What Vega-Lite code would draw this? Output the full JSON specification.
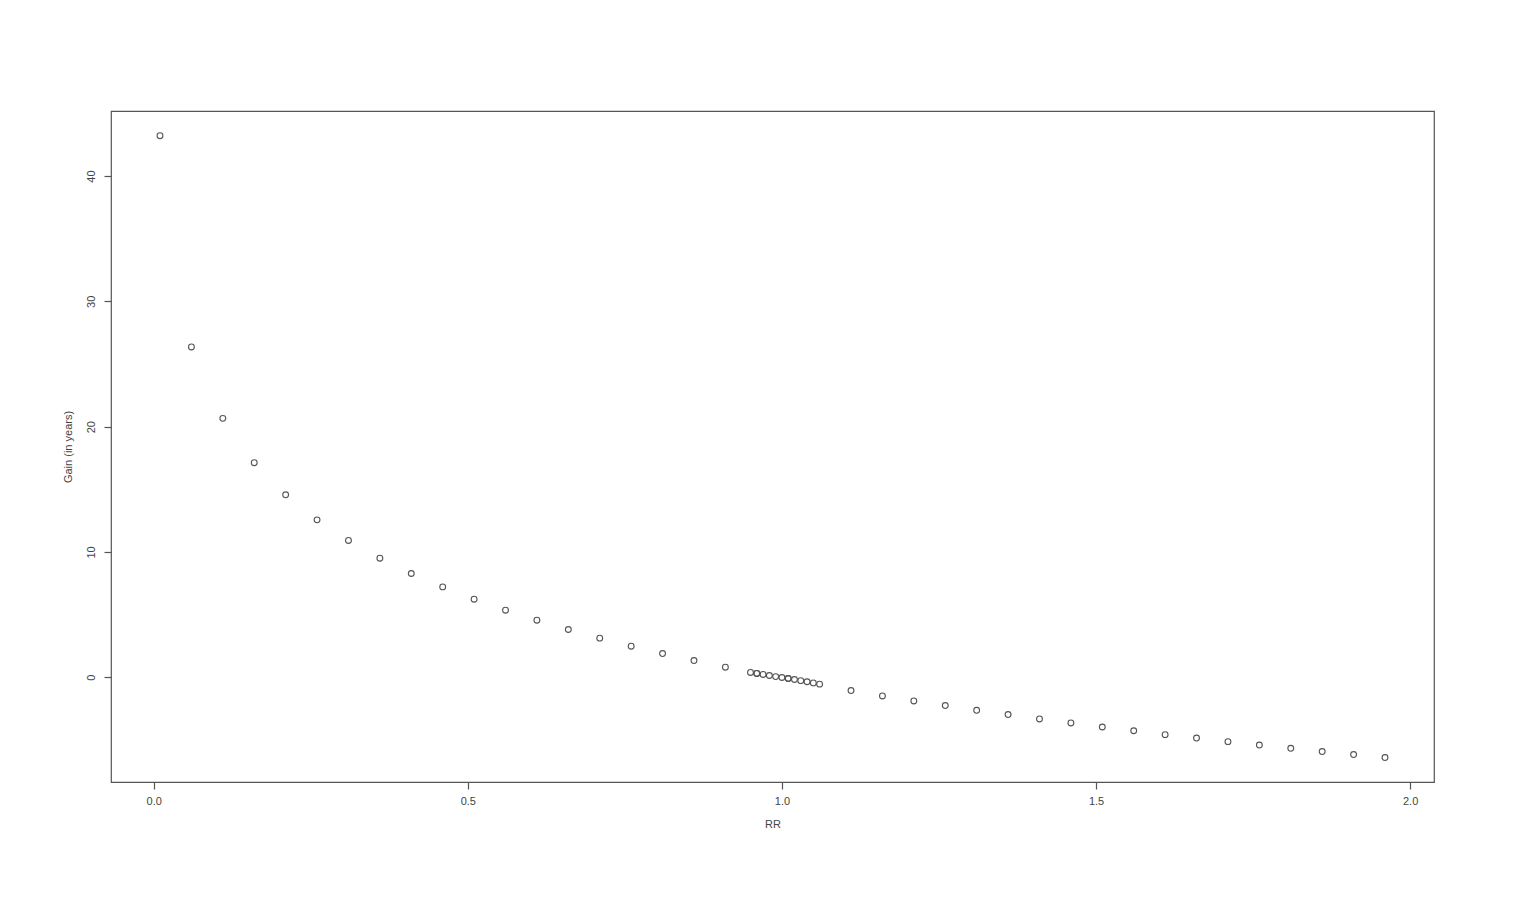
{
  "$schema": "https://vega.github.io/schema/vega-lite/v6.json",
  "autosize": "none",
  "padding": {"left": 111, "top": 111, "right": 86, "bottom": 124},
  "width": 1323,
  "height": 671,
  "background": "white",
  "data": {
    "values": [
      {"RR": 0.01, "Gain": 43.22}, {"RR": 0.06, "Gain": 26.36}, {"RR": 0.11, "Gain": 20.66},
      {"RR": 0.16, "Gain": 17.12}, {"RR": 0.21, "Gain": 14.56}, {"RR": 0.26, "Gain": 12.56},
      {"RR": 0.31, "Gain": 10.92}, {"RR": 0.36, "Gain": 9.50}, {"RR": 0.41, "Gain": 8.28},
      {"RR": 0.46, "Gain": 7.21}, {"RR": 0.51, "Gain": 6.23}, {"RR": 0.56, "Gain": 5.35},
      {"RR": 0.61, "Gain": 4.55}, {"RR": 0.66, "Gain": 3.81}, {"RR": 0.71, "Gain": 3.12},
      {"RR": 0.76, "Gain": 2.48}, {"RR": 0.81, "Gain": 1.89}, {"RR": 0.86, "Gain": 1.33},
      {"RR": 0.91, "Gain": 0.80}, {"RR": 0.96, "Gain": 0.30}, {"RR": 1.01, "Gain": -0.10},
      {"RR": 1.06, "Gain": -0.55}, {"RR": 1.11, "Gain": -1.06}, {"RR": 1.16, "Gain": -1.49},
      {"RR": 1.21, "Gain": -1.89}, {"RR": 1.26, "Gain": -2.26}, {"RR": 1.31, "Gain": -2.64},
      {"RR": 1.36, "Gain": -2.98}, {"RR": 1.41, "Gain": -3.33}, {"RR": 1.46, "Gain": -3.65},
      {"RR": 1.51, "Gain": -3.97}, {"RR": 1.56, "Gain": -4.27}, {"RR": 1.61, "Gain": -4.58},
      {"RR": 1.66, "Gain": -4.85}, {"RR": 1.71, "Gain": -5.14}, {"RR": 1.76, "Gain": -5.41},
      {"RR": 1.81, "Gain": -5.67}, {"RR": 1.86, "Gain": -5.93}, {"RR": 1.91, "Gain": -6.17},
      {"RR": 1.96, "Gain": -6.41},
      {"RR": 0.95, "Gain": 0.38}, {"RR": 0.96, "Gain": 0.30}, {"RR": 0.97, "Gain": 0.22},
      {"RR": 0.98, "Gain": 0.14}, {"RR": 0.99, "Gain": 0.05}, {"RR": 1.00, "Gain": -0.02},
      {"RR": 1.01, "Gain": -0.10}, {"RR": 1.02, "Gain": -0.18}, {"RR": 1.03, "Gain": -0.27},
      {"RR": 1.04, "Gain": -0.36}, {"RR": 1.05, "Gain": -0.45}
    ]
  },
  "mark": {"type": "point", "shape": "circle", "filled": false, "size": 34, "stroke": "#555555", "strokeWidth": 1.1, "opacity": 1},
  "encoding": {
    "x": {
      "field": "RR",
      "type": "quantitative",
      "title": "RR",
      "scale": {"domain": [-0.068, 2.038], "nice": false, "zero": false},
      "axis": {"values": [0, 0.5, 1, 1.5, 2], "format": ".1f", "grid": false, "domain": false, "labelPadding": 6, "titlePadding": 12}
    },
    "y": {
      "field": "Gain",
      "type": "quantitative",
      "title": "Gain (in years)",
      "scale": {"domain": [-8.36, 45.19], "nice": false, "zero": false},
      "axis": {"values": [0, 10, 20, 30, 40], "format": "d", "grid": false, "domain": false, "labelAngle": -90, "labelAlign": "center", "labelBaseline": "bottom", "labelPadding": 8, "titlePadding": 12}
    }
  },
  "config": {
    "view": {"stroke": "#555555", "strokeWidth": 1.2},
    "axis": {
      "labelFont": "Liberation Sans",
      "titleFont": "Liberation Sans",
      "labelFontSize": 11,
      "titleFontSize": 11,
      "titleFontWeight": "normal",
      "labelColor": "#444444",
      "titleColor": "#444444",
      "tickColor": "#555555",
      "tickSize": 7,
      "tickWidth": 1.2
    }
  }
}
